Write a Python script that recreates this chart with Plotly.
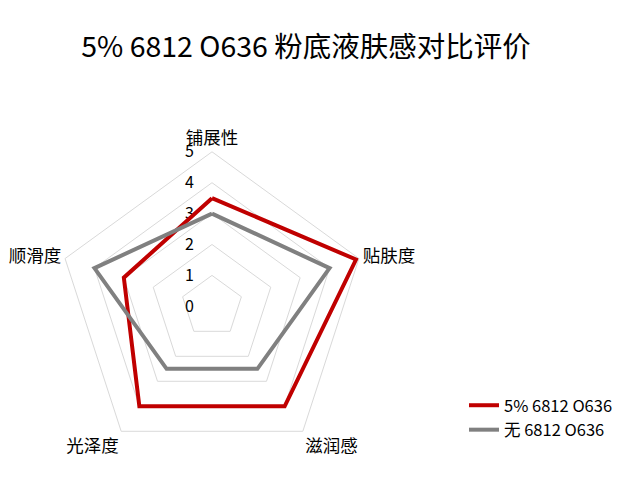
import plotly.graph_objects as go

categories = ["铺展性", "贴肤度", "滋润感", "光泽度", "顺滑度"]
series_names = ["5% 6812 O636", "无 6812 O636"]
values_a = [3.5, 4.9, 4.0, 4.0, 3.0]
values_b = [3.0, 4.0, 2.5, 2.5, 4.0]
colors = ["#C00000", "#808080"]
radial_ticks = [0, 1, 2, 3, 4, 5]

FONT = "Noto Sans CJK SC"
W, H = 629, 484
cx, cy, R = 204.0, 298.3, 154.5

fig = go.Figure()
for name, vals, col in zip(series_names, [values_a, values_b], colors):
    fig.add_trace(go.Scatterpolar(
        r=vals + vals[:1], theta=categories + categories[:1],
        mode="lines", name=name,
        line=dict(color=col, width=4, shape="linear"),
    ))

fig.update_layout(
    width=W, height=H,
    margin=dict(l=0, r=0, t=0, b=0),
    paper_bgcolor="white", plot_bgcolor="white",
    font=dict(family=FONT, color="#000000", size=16),
    title=dict(text="5% 6812 O636 粉底液肤感对比评价", x=298 / W, xanchor="center",
               y=1 - 39 / H, yanchor="middle", font=dict(size=28.5, family=FONT)),
    polar=dict(
        domain=dict(x=[(cx - R) / W, (cx + R) / W], y=[(H - cy - R) / H, (H - cy + R) / H]),
        bgcolor="white",
        gridshape="linear",
        radialaxis=dict(range=[0, 5], tickvals=radial_ticks, angle=90, tickangle=90,
                        showline=False, ticks="outside", ticklen=12,
                        tickcolor="rgba(0,0,0,0)", side="counterclockwise",
                        layer="below traces",
                        gridcolor="#d9d9d9", gridwidth=1,
                        tickfont=dict(size=16, color="#000000")),
        angularaxis=dict(rotation=90, direction="clockwise", showgrid=False,
                         linecolor="#d9d9d9", linewidth=1, ticks="",
                         layer="below traces",
                         tickfont=dict(size=17.5, color="#000000")),
    ),
    legend=dict(x=456 / W, y=1 - 380 / H, xanchor="left", yanchor="top",
                font=dict(size=16.5, family=FONT), bgcolor="rgba(0,0,0,0)",
                tracegroupgap=0),
    showlegend=True,
)

fig.write_html("out.html")
